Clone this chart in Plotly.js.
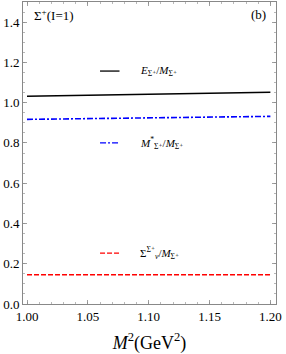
<!DOCTYPE html>
<html>
<head>
<meta charset="utf-8">
<script src="https://cdn.plot.ly/plotly-3.0.1.min.js"></script>
<style>html,body{margin:0;padding:0;background:#fff;}#chart{width:286px;height:354px;}</style>
</head>
<body>
<div id="chart"></div>
<script>
const msq = [1.00, 1.05, 1.10, 1.15, 1.20];
const energyRatio = [1.032, 1.037, 1.042, 1.047, 1.052];
const effMassRatio = [0.917, 0.921, 0.924, 0.928, 0.932];
const vectorRatio = [0.145, 0.145, 0.145, 0.145, 0.145];
const xTicks = [1.00, 1.05, 1.10, 1.15, 1.20];
const xTickText = ['1.00', '1.05', '1.10', '1.15', '1.20'];
const yTicks = [0.0, 0.2, 0.4, 0.6, 0.8, 1.0, 1.2, 1.4];
const yTickText = ['0.0', '0.2', '0.4', '0.6', '0.8', '1.0', '1.2', '1.4'];
const seriesLabels = [
  '<i>E</i><sub>Σ⁺</sub>/<i>M</i><sub>Σ⁺</sub>',
  '<i>M</i><sup>*</sup><sub>Σ⁺</sub>/<i>M</i><sub>Σ⁺</sub>',
  'Σ<sup>Σ⁺</sup><sub><i>v</i></sub>/<i>M</i><sub>Σ⁺</sub>'
];

const serif = 'Liberation Serif, DejaVu Serif, serif';
const traces = [
  {x: msq, y: energyRatio, mode: 'lines', line: {color: '#000000', width: 1.6}},
  {x: msq, y: effMassRatio, mode: 'lines', line: {color: '#0000ff', width: 1.6, dash: '6px,2px,2px,2px'}},
  {x: msq, y: vectorRatio, mode: 'lines', line: {color: '#ff0000', width: 1.6, dash: '5px,2px'}}
];

const keyY = [1.157, 0.80, 0.253];
const keyColors = ['#000000', '#0000ff', '#ff0000'];
const keyDash = ['solid', '6px,2px,2px,2px', '5px,2px'];
const shapes = keyY.map((yy, i) => ({
  type: 'line', xref: 'x', yref: 'y', x0: 1.060, x1: 1.076, y0: yy, y1: yy,
  line: {color: keyColors[i], width: 1.3, dash: keyDash[i]}
}));
const annotations = keyY.map((yy, i) => ({
  x: 1.091, y: yy, xref: 'x', yref: 'y', xanchor: 'left', yanchor: 'middle',
  text: seriesLabels[i], showarrow: false, font: {family: serif, size: 11, color: '#000'}
}));
annotations.push({x: 0.035, y: 0.957, xref: 'paper', yref: 'paper', xanchor: 'left', yanchor: 'middle',
  text: 'Σ<sup>+</sup>(I=1)', showarrow: false, font: {family: serif, size: 13, color: '#000'}});
annotations.push({x: 0.968, y: 0.957, xref: 'paper', yref: 'paper', xanchor: 'right', yanchor: 'middle',
  text: '(b)', showarrow: false, font: {family: serif, size: 13, color: '#000'}});

const axisCommon = {
  showgrid: false, zeroline: false, showline: true, linecolor: '#888', linewidth: 1,
  mirror: 'ticks', ticks: 'inside', ticklen: 4, tickcolor: '#888', tickwidth: 0.8,
  tickfont: {family: serif, size: 13, color: '#000'}
};
const layout = {
  width: 286, height: 354,
  margin: {l: 23, r: 10, t: 2, b: 50},
  paper_bgcolor: '#fff', plot_bgcolor: '#fff',
  showlegend: false,
  xaxis: Object.assign({}, axisCommon, {
    range: [0.9967, 1.2046], tickvals: xTicks, ticktext: xTickText,
    minor: {dtick: 0.01, tick0: 1.0, ticks: 'inside', ticklen: 2, tickcolor: '#888', tickwidth: 0.6},
    title: {text: '<i>M</i><sup>2</sup>(GeV<sup>2</sup>)', font: {family: serif, size: 18, color: '#000'}, standoff: 14}
  }),
  yaxis: Object.assign({}, axisCommon, {
    range: [0, 1.5], tickvals: yTicks, ticktext: yTickText,
    minor: {dtick: 0.05, tick0: 0, ticks: 'inside', ticklen: 2, tickcolor: '#888', tickwidth: 0.6}
  }),
  shapes: shapes,
  annotations: annotations
};
Plotly.newPlot('chart', traces, layout, {displayModeBar: false, staticPlot: true});
</script>
</body>
</html>
